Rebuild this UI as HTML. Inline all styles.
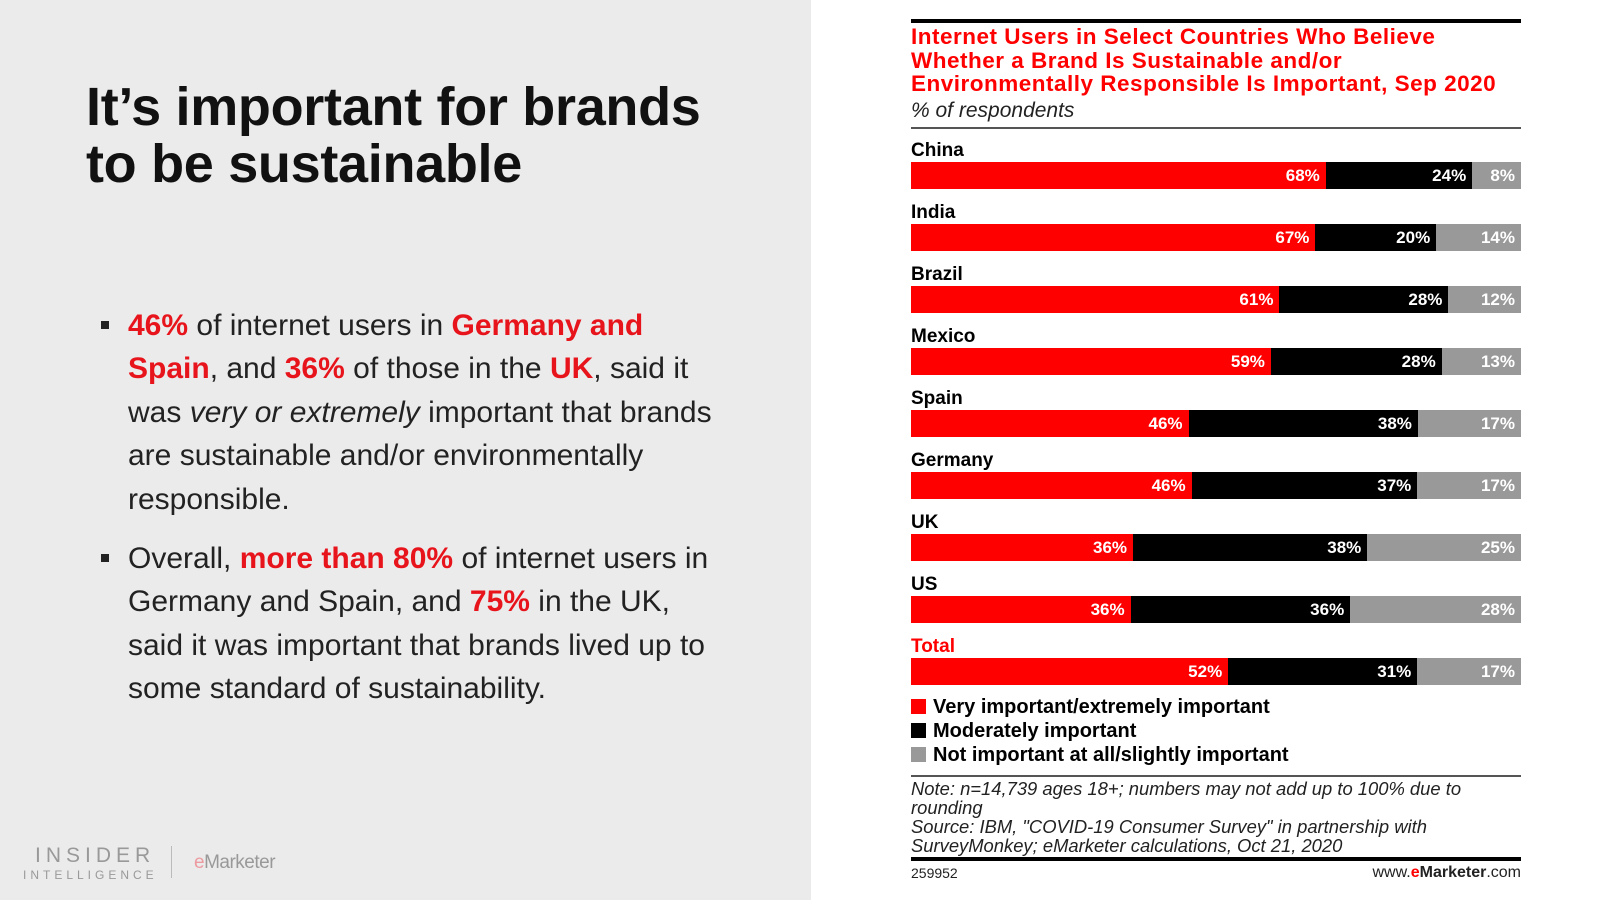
<!DOCTYPE html>
<html><head><meta charset="utf-8"><style>
*{margin:0;padding:0;box-sizing:border-box}
body{width:1600px;height:900px;position:relative;background:#fff;font-family:"Liberation Sans",Arial,sans-serif;overflow:hidden}
.left{position:absolute;left:0;top:0;width:811px;height:900px;background:#ebebeb}
h1{position:absolute;left:86px;top:79px;font-size:54px;line-height:57px;font-weight:bold;color:#111;letter-spacing:-0.3px}
.bl{position:absolute;left:128px;font-size:30px;line-height:43.4px;color:#222;width:592px}
.bl::before{content:"";position:absolute;left:-27px;top:17px;width:8px;height:8px;background:#222}
.r{color:#e8141c;font-weight:bold}
.abs{position:absolute}
.title{left:911px;top:25px;color:#f00;font-weight:bold;font-size:22.5px;line-height:23.5px;letter-spacing:0.5px;white-space:nowrap}
.lab{position:absolute;left:911px;font-weight:bold;font-size:19px;color:#000}
.bar{position:absolute;left:911px;width:610px;height:27px;display:flex}
.bar div{height:100%;color:#fff;font-weight:bold;font-size:17px;text-align:right;padding-right:6px;line-height:27px}
.a{background:#f00}.b{background:#000}.c{background:#999}
.leg{position:absolute;left:911px;font-weight:bold;font-size:20px;color:#000}
.leg span{display:inline-block;width:15px;height:15px;vertical-align:-1px;margin-right:7px}
.note{left:911px;top:779px;font-style:italic;font-size:18.4px;line-height:19px;color:#222;width:612px}
</style></head><body>
<div class="left"></div>
<h1>It’s important for brands<br>to be sustainable</h1>
<div class="bl" style="top:304px"><span class="r">46%</span> of internet users in <span class="r">Germany and Spain</span>, and <span class="r">36%</span> of those in the <span class="r">UK</span>, said it was <i>very or extremely</i> important that brands are sustainable and/or environmentally responsible.</div>
<div class="bl" style="top:537px">Overall, <span class="r">more than 80%</span> of internet users in Germany and Spain, and <span class="r">75%</span> in the UK, said it was important that brands lived up to some standard of sustainability.</div>
<div class="abs" style="left:35px;top:844px;font-size:21px;letter-spacing:5px;color:#999">INSIDER</div>
<div class="abs" style="left:23px;top:868px;font-size:12px;letter-spacing:4px;color:#999">INTELLIGENCE</div>
<div class="abs" style="left:171px;top:846px;width:1px;height:32px;background:#bbb"></div>
<div class="abs" style="left:194px;top:852px;font-size:19px;color:#999;letter-spacing:-0.5px"><span style="color:#ec9aa0">e</span>Marketer</div>

<div class="abs" style="left:911px;top:19px;width:610px;height:4px;background:#000"></div>
<div class="abs title">Internet Users in Select Countries Who Believe<br>Whether a Brand Is Sustainable and/or<br>Environmentally Responsible Is Important, Sep 2020</div>
<div class="abs" style="left:911px;top:99px;font-style:italic;font-size:21px;color:#222">% of respondents</div>
<div class="abs" style="left:911px;top:127px;width:610px;height:2px;background:#555"></div>

<div class="lab" style="top:140px">China</div>
<div class="bar" style="top:162px"><div class="a" style="width:68%">68%</div><div class="b" style="width:24%">24%</div><div class="c" style="width:8%">8%</div></div>
<div class="lab" style="top:202px">India</div>
<div class="bar" style="top:224px"><div class="a" style="width:66.3%">67%</div><div class="b" style="width:19.8%">20%</div><div class="c" style="width:13.9%">14%</div></div>
<div class="lab" style="top:264px">Brazil</div>
<div class="bar" style="top:286px"><div class="a" style="width:60.4%">61%</div><div class="b" style="width:27.7%">28%</div><div class="c" style="width:11.9%">12%</div></div>
<div class="lab" style="top:326px">Mexico</div>
<div class="bar" style="top:348px"><div class="a" style="width:59%">59%</div><div class="b" style="width:28%">28%</div><div class="c" style="width:13%">13%</div></div>
<div class="lab" style="top:388px">Spain</div>
<div class="bar" style="top:410px"><div class="a" style="width:45.5%">46%</div><div class="b" style="width:37.6%">38%</div><div class="c" style="width:16.9%">17%</div></div>
<div class="lab" style="top:450px">Germany</div>
<div class="bar" style="top:472px"><div class="a" style="width:46%">46%</div><div class="b" style="width:37%">37%</div><div class="c" style="width:17%">17%</div></div>
<div class="lab" style="top:512px">UK</div>
<div class="bar" style="top:534px"><div class="a" style="width:36.4%">36%</div><div class="b" style="width:38.4%">38%</div><div class="c" style="width:25.2%">25%</div></div>
<div class="lab" style="top:574px">US</div>
<div class="bar" style="top:596px"><div class="a" style="width:36%">36%</div><div class="b" style="width:36%">36%</div><div class="c" style="width:28%">28%</div></div>
<div class="lab" style="top:636px;color:#f00">Total</div>
<div class="bar" style="top:658px"><div class="a" style="width:52%">52%</div><div class="b" style="width:31%">31%</div><div class="c" style="width:17%">17%</div></div>

<div class="leg" style="top:696px"><span style="background:#f00"></span>Very important/extremely important</div>
<div class="leg" style="top:720px"><span style="background:#000"></span>Moderately important</div>
<div class="leg" style="top:744px"><span style="background:#999"></span>Not important at all/slightly important</div>
<div class="abs" style="left:911px;top:775px;width:610px;height:2px;background:#555"></div>
<div class="abs note">Note: n=14,739 ages 18+; numbers may not add up to 100% due to rounding<br>Source: IBM, "COVID-19 Consumer Survey" in partnership with SurveyMonkey; eMarketer calculations, Oct 21, 2020</div>
<div class="abs" style="left:911px;top:857px;width:610px;height:4px;background:#000"></div>
<div class="abs" style="left:911px;top:865px;font-size:14px;color:#222">259952</div>
<div class="abs" style="left:1300px;width:221px;text-align:right;top:864px;font-size:16px;color:#222">www.<b style="color:#f00">e</b><b>Marketer</b>.com</div>
</body></html>
